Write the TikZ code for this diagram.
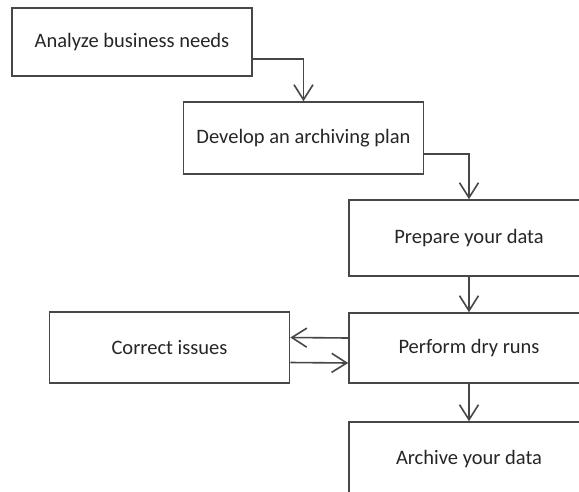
\documentclass[tikz,border=0pt]{standalone}
\usepackage{fontspec}
\setmainfont{Carlito}
\usetikzlibrary{arrows.meta}

\tikzset{
  stepbox/.style={draw=black!72, line width=1.6pt, fill=white, minimum width=240pt,
    inner sep=0pt, font=\fontsize{20.5}{22}\selectfont, text=black!85},
  flow/.style={draw=black!72, line width=1.6pt,
    -{Straight Barb[length=15pt, width=19pt, line width=1.6pt]}}
}

\begin{document}
\begin{tikzpicture}[x=1pt, y=-1pt]
% Fix the page to the drawing area
\useasboundingbox[fill=white] (0,0) rectangle (579,491);
% Draw the steps of the plan
\node[stepbox, minimum height=68pt] (analyze) at (132,42) {Analyze business needs};
\node[stepbox, minimum height=72pt] (develop) at (303.5,138) {Develop an archiving plan};
\node[stepbox, minimum height=76pt] (prepare) at (469,238) {Prepare your data};
\node[stepbox, minimum height=70pt] (dryrun) at (469,348) {Perform dry runs};
\node[stepbox, minimum height=71pt] (correct) at (169.5,347.5) {Correct issues};
\node[stepbox, minimum height=74pt] (archive) at (469,459) {Archive your data};
% Draw the elbow connectors
\draw[flow] ([yshift=-17pt]analyze.east) -| (develop.north);
\draw[flow] ([yshift=-16pt]develop.east) -| (prepare.north);
% Draw the straight connectors
\draw[flow] (prepare) -- (dryrun);
\draw[flow] (dryrun) -- (archive);
% Draw the loop to the fix step and back
\draw[flow] ([yshift=10pt]dryrun.west) -- ([yshift=10pt]correct.east);
\draw[flow] ([yshift=-15pt]correct.east) -- ([yshift=-15pt]dryrun.west);
\end{tikzpicture}
\end{document}
